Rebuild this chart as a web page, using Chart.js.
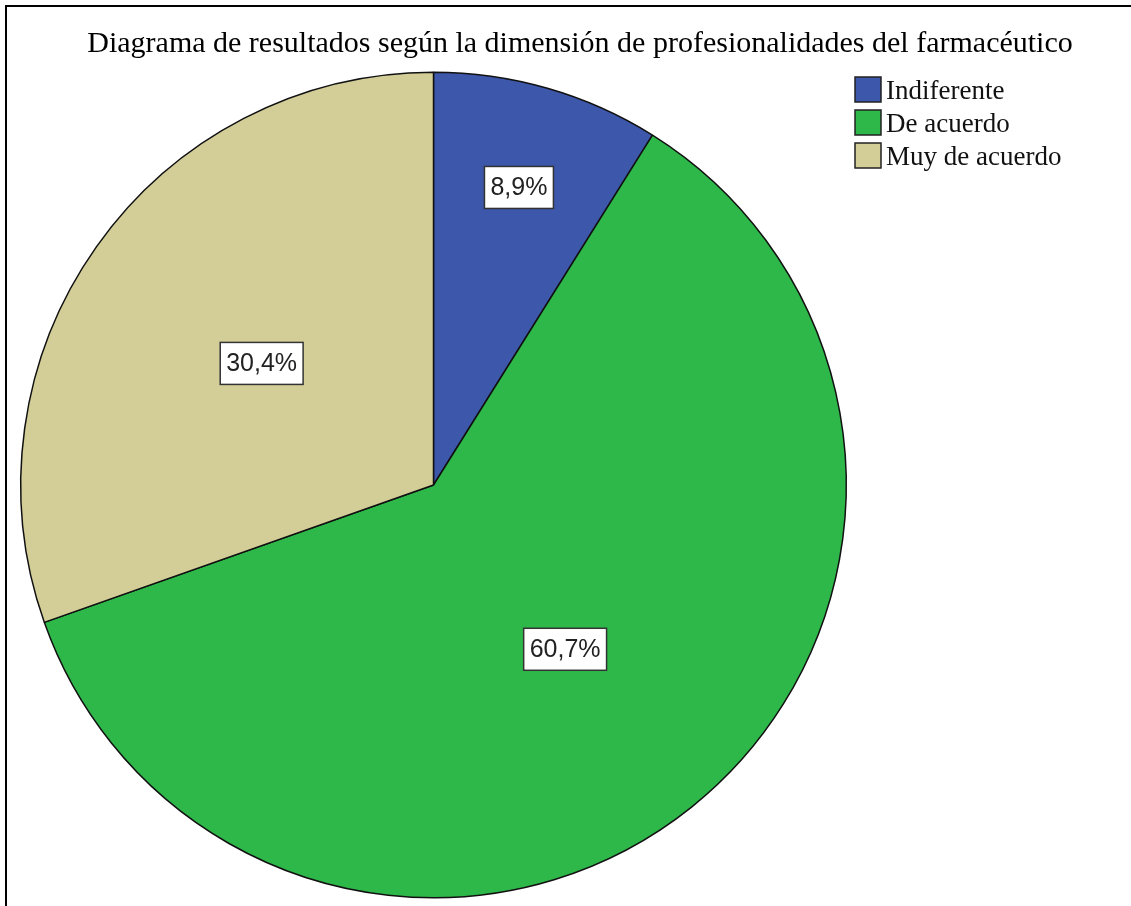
<!DOCTYPE html>
<html>
<head>
<meta charset="utf-8">
<script src="https://cdn.jsdelivr.net/npm/chart.js@4.4.1/dist/chart.umd.min.js"></script>
<style>
  html, body { margin: 0; padding: 0; background: #ffffff; }
  #wrap { width: 1131px; height: 906px; position: relative; }
</style>
</head>
<body>
<div id="wrap"><canvas id="c" width="1131" height="906"></canvas></div>
<script>
const chartTitle = "Diagrama de resultados según la dimensión de profesionalidades del farmacéutico";
const categories = ["Indiferente", "De acuerdo", "Muy de acuerdo"];
const percentValues = [8.9, 60.7, 30.4];
const sliceColors = ["#3d57ab", "#2eb84a", "#d3ce98"];

const decorPlugin = {
  id: "decor",
  beforeDraw(chart) {
    const ctx = chart.ctx;
    ctx.save();
    ctx.fillStyle = "#ffffff";
    ctx.fillRect(0, 0, chart.width, chart.height);
    // frame (top and left)
    ctx.strokeStyle = "#000000";
    ctx.lineWidth = 2;
    ctx.beginPath();
    ctx.moveTo(6, 906);
    ctx.lineTo(6, 6);
    ctx.lineTo(1131, 6);
    ctx.stroke();
    // title
    ctx.fillStyle = "#000000";
    ctx.font = "30px 'Liberation Serif', 'Times New Roman', serif";
    ctx.textAlign = "center";
    ctx.textBaseline = "alphabetic";
    ctx.fillText(chartTitle, 580, 52);
    // legend
    ctx.textAlign = "left";
    ctx.font = "27px 'Liberation Serif', 'Times New Roman', serif";
    categories.forEach((cat, i) => {
      const y = 77 + i * 33;
      ctx.fillStyle = sliceColors[i];
      ctx.fillRect(855, y, 26, 25);
      ctx.strokeStyle = "#222222";
      ctx.lineWidth = 1.5;
      ctx.strokeRect(855, y, 26, 25);
      ctx.fillStyle = "#111111";
      ctx.fillText(cat, 886, y + 22);
    });
    ctx.restore();
  },
  afterDatasetsDraw(chart) {
    const ctx = chart.ctx;
    const meta = chart.getDatasetMeta(0);
    ctx.save();
    ctx.font = "25px 'Liberation Sans', Arial, sans-serif";
    ctx.textAlign = "center";
    ctx.textBaseline = "middle";
    meta.data.forEach((arc, i) => {
      const v = percentValues[i];
      const mid = (arc.startAngle + arc.endAngle) / 2;
      const f = v < 15 ? 0.75 : 0.51;
      const r = arc.outerRadius * f;
      const x = arc.x + Math.cos(mid) * r;
      const y = arc.y + Math.sin(mid) * r;
      const txt = v.toFixed(1).replace(".", ",") + "%";
      const w = ctx.measureText(txt).width + 12;
      const h = 42;
      ctx.fillStyle = "#ffffff";
      ctx.fillRect(x - w / 2, y - h / 2, w, h);
      ctx.strokeStyle = "#333333";
      ctx.lineWidth = 1.5;
      ctx.strokeRect(x - w / 2, y - h / 2, w, h);
      ctx.fillStyle = "#222222";
      ctx.fillText(txt, x, y + 1);
    });
    ctx.restore();
  }
};

new Chart(document.getElementById("c"), {
  type: "pie",
  data: {
    labels: categories,
    datasets: [{
      data: percentValues,
      backgroundColor: sliceColors,
      borderColor: "#111111",
      borderWidth: 1.5
    }]
  },
  options: {
    responsive: false,
    animation: false,
    layout: { padding: { left: 20, top: 71, right: 284, bottom: 7 } },
    plugins: {
      legend: { display: false },
      title: { display: false },
      tooltip: { enabled: false }
    }
  },
  plugins: [decorPlugin]
});
</script>
</body>
</html>
